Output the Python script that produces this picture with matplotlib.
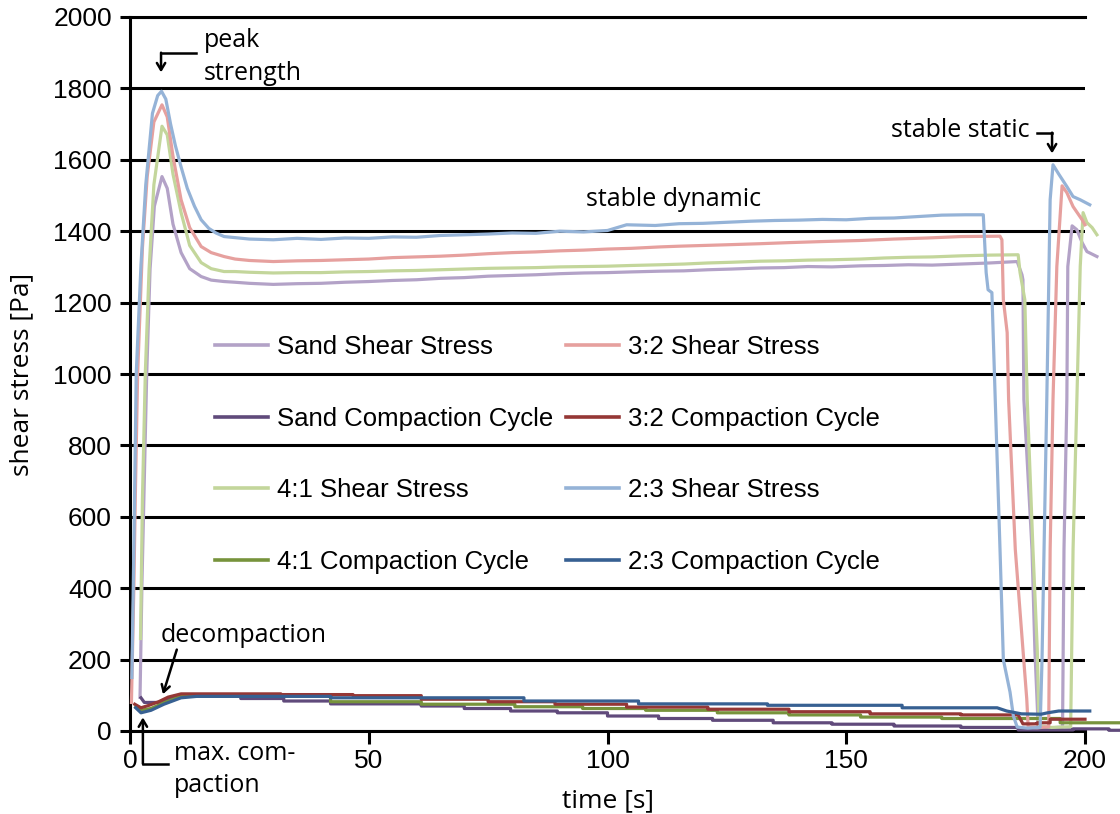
import matplotlib
matplotlib.use("Agg")
import matplotlib.pyplot as plt

# shear stress curves (time [s], stress [Pa])
sand_shear_t = [2.1, 2.5, 3.1, 3.5, 4.2, 5.1, 6.7, 7.8, 9.0, 10.7, 12.5, 14.9, 17, 19.7, 22, 25, 30, 35, 40, 45,
                50, 55, 60, 65, 70, 75, 80, 85, 90, 95, 100, 105, 111, 116, 121, 126, 132, 137, 142, 147, 153,
                158, 163, 168, 174, 180, 185.8, 186.8, 187.0, 187.2, 188.9, 189.5, 190.2, 193, 195.3, 195.6,
                196.2, 196.4, 197.3, 198.3, 199.4, 200.4, 202.5]
sand_shear = [94, 412, 765, 1000, 1294, 1470, 1553, 1520, 1420, 1340, 1295, 1273, 1263, 1259, 1257, 1254, 1251,
              1253, 1254, 1257, 1259, 1262, 1264, 1268, 1270, 1274, 1276, 1278, 1281, 1283, 1284, 1286, 1288,
              1289, 1292, 1294, 1297, 1298, 1301, 1300, 1303, 1304, 1306, 1305, 1308, 1311, 1315, 1278, 1264,
              929, 509, 229, 11, 9, 11, 509, 929, 1301, 1415, 1404, 1368, 1343, 1329]

r41_shear_t = [2.2, 2.6, 3.2, 4.0, 5.0, 6.7, 7.8, 9.0, 10.7, 12.5, 14.9, 17, 19.7, 22, 25, 30, 35, 40, 45, 50, 55,
               60, 65, 70, 75, 80, 85, 90, 95, 100, 105, 111, 116, 121, 126, 132, 137, 142, 147, 153, 158, 163,
               168, 174, 180, 186, 186.4, 187.4, 187.9, 189.1, 190.0, 190.4, 193, 197, 197.5, 198.3, 199.0,
               199.6, 200.4, 201.5, 202.5]
r41_shear = [259, 648, 1000, 1294, 1530, 1694, 1670, 1560, 1452, 1360, 1312, 1295, 1287, 1287, 1285, 1283, 1284,
             1284, 1286, 1287, 1289, 1290, 1292, 1294, 1296, 1297, 1298, 1300, 1301, 1302, 1304, 1306, 1308, 1311,
             1313, 1316, 1317, 1319, 1320, 1322, 1325, 1327, 1328, 1331, 1333, 1334, 1284, 1208, 929, 509, 229,
             14, 10, 12, 509, 929, 1301, 1452, 1424, 1410, 1390]

r32_shear_t = [0.3, 0.8, 1.1, 1.6, 2.6, 3.6, 5.0, 6.7, 7.8, 9.0, 10.7, 12.5, 14.9, 17, 19.7, 22, 25, 30, 35, 40, 45,
               50, 55, 60, 65, 70, 75, 80, 85, 90, 95, 100, 105, 111, 115, 120, 125, 132, 138, 145, 153, 160, 167,
               174, 182.2, 182.6, 182.9, 183.7, 184.0, 185.4, 187.0, 187.8, 188.1, 190, 192.4, 192.7, 193.3,
               194.1, 195.2, 196.2, 197.5, 199.4, 200.0]
r32_shear = [80, 400, 648, 1000, 1353, 1553, 1706, 1754, 1720, 1610, 1488, 1410, 1357, 1340, 1329, 1322, 1318,
             1315, 1317, 1318, 1320, 1322, 1326, 1328, 1330, 1333, 1337, 1340, 1342, 1345, 1347, 1350, 1352, 1356,
             1358, 1360, 1362, 1365, 1368, 1371, 1374, 1378, 1381, 1385, 1386, 1376, 1208, 1116, 929, 509, 229,
             90, 11, 9, 12, 509, 929, 1301, 1527, 1508, 1469, 1432, 1418]

r23_shear_t = [0.4, 0.9, 1.3, 2.3, 3.3, 4.7, 5.8, 6.6, 7.5, 8.5, 9.5, 10.7, 12, 13.5, 14.9, 16.5, 18, 19.7, 22, 25,
               30, 35, 40, 45, 50, 55, 60, 65, 70, 75, 80, 85, 90, 95, 100, 104, 110, 115, 120, 125, 130, 135, 140,
               145, 150, 155, 160, 165, 170, 175, 178.7, 179.3, 179.7, 180.5, 181.2, 182.2, 182.9, 184.3, 185.0,
               185.8, 188, 190.6, 191.0, 192.0, 192.7, 193.3, 194.5, 196.2, 197.5, 199.0, 201.0]
r23_shear = [150, 600, 1000, 1306, 1530, 1730, 1780, 1792, 1770, 1700, 1640, 1580, 1520, 1470, 1432, 1408, 1395,
             1385, 1382, 1378, 1376, 1380, 1377, 1381, 1380, 1384, 1383, 1388, 1390, 1392, 1395, 1394, 1400, 1398,
             1402, 1418, 1416, 1421, 1422, 1425, 1428, 1430, 1431, 1433, 1432, 1436, 1437, 1441, 1445, 1446, 1446,
             1284, 1236, 1228, 929, 509, 200, 109, 42, 11, 8, 10, 200, 929, 1488, 1586, 1560, 1525, 1497, 1488,
             1474]

# compaction cycles (stepped)
sand_comp_t = [2.3, 3.0, 6.4, 8.5, 10.7, 23.2, 23.2, 32.2, 32.2, 42, 42, 61, 61, 70, 70, 79.7, 79.7, 89.5, 89.5,
               100, 100, 110.7, 110.7, 122, 122, 134.7, 134.7, 147, 147, 160, 160, 174, 174, 186, 186, 197.5,
               197.5, 205, 205, 207]
sand_comp = [93, 80, 80, 90, 98, 98, 91, 91, 84, 84, 76, 76, 70, 70, 63, 63, 56, 56, 51, 51, 42, 42, 35, 35, 30,
             30, 23, 23, 19, 19, 14, 14, 10, 10, 3, 3, 6, 6, 2, 2]

r41_comp_t = [1.2, 2.3, 4.4, 7.1, 10.7, 14, 42, 42, 61, 61, 80.6, 80.6, 94.8, 94.8, 108, 108, 123, 123, 138, 138,
              153, 153, 170, 170, 194.8, 194.8, 207]
r41_comp = [67, 58, 63, 79, 97, 99, 99, 82, 82, 75, 75, 68, 68, 63, 63, 58, 58, 51, 51, 45, 45, 39, 39, 35, 35,
            23, 23]

r32_comp_t = [1.0, 2.3, 4.0, 6.0, 8.0, 10.7, 31.6, 31.6, 46.7, 46.7, 61, 61, 75, 75, 89, 89, 104, 104, 121, 121,
              138, 138, 155, 155, 174, 174, 186, 187, 190, 190, 192.7, 192.7, 200]
r32_comp = [75, 65, 72, 82, 95, 104, 104, 102, 102, 99, 99, 89, 89, 82, 82, 75, 75, 67, 67, 61, 61, 54, 54, 48,
            48, 45, 45, 20, 20, 23, 23, 33, 33]

r23_comp_t = [1.2, 2.3, 4.4, 7.1, 10.7, 14, 42, 42, 82.5, 82.5, 106.5, 106.5, 133.5, 133.5, 161.7, 161.7, 181.6,
              183.6, 186.7, 190.8, 192.2, 194.5, 201]
r23_comp = [65, 51, 58, 75, 93, 97, 97, 93, 93, 84, 84, 76, 76, 72, 72, 65, 65, 56, 48, 47, 51, 56, 56]

series = [
    ("Sand Shear Stress", sand_shear_t, sand_shear, "#b3a2c7"),
    ("Sand Compaction Cycle", sand_comp_t, sand_comp, "#604a7b"),
    ("4:1 Shear Stress", r41_shear_t, r41_shear, "#c3d69b"),
    ("4:1 Compaction Cycle", r41_comp_t, r41_comp, "#77933c"),
    ("3:2 Shear Stress", r32_shear_t, r32_shear, "#e6a09e"),
    ("3:2 Compaction Cycle", r32_comp_t, r32_comp, "#953735"),
    ("2:3 Shear Stress", r23_shear_t, r23_shear, "#95b3d7"),
    ("2:3 Compaction Cycle", r23_comp_t, r23_comp, "#376092"),
]

W, H = 1120, 814
fig = plt.figure(figsize=(W / 100, H / 100), dpi=100)
ax = fig.add_axes([130 / W, 1 - 731 / H, (1085 - 130) / W, (731 - 17) / H])

for label, t, v, c in series:
    ax.plot(t, v, color=c, lw=2.3, label=label, clip_on=False, zorder=3)

ax.set_xlim(0, 200)
ax.set_ylim(0, 2000)
ax.set_xticks([0, 50, 100, 150, 200])
ax.set_yticks(range(0, 2001, 200))
ax.yaxis.grid(True, color="black", lw=2.2)
ax.set_axisbelow(True)
ax.spines["right"].set_visible(False)
for s in ["left", "bottom", "top"]:
    ax.spines[s].set_linewidth(2.2)
ax.tick_params(axis="y", length=7, width=2.2, labelsize=19, pad=6)
ax.tick_params(axis="x", length=9, width=2.2, labelsize=19, pad=4)
for lab in ax.get_xticklabels() + ax.get_yticklabels():
    lab.set_family("Liberation Sans")

ax.set_xlabel("time [s]", fontsize=19, family="Open Sans", labelpad=11)
ax.set_ylabel("shear stress [Pa]", fontsize=19, family="Open Sans", labelpad=14)

leg = ax.legend(ncol=2, frameon=False, loc="upper left",
                bbox_to_anchor=(215 / W, 1 - 335 / H), bbox_transform=fig.transFigure,
                borderpad=0, borderaxespad=0, handlelength=2.06, handletextpad=0.35,
                labelspacing=1.85, columnspacing=0.5,
                prop={"family": "Liberation Sans", "size": 18.5})
for line in leg.get_lines():
    line.set_linewidth(2.6)

txt = dict(fontsize=18, family="Open Sans", color="black")
arr = dict(arrowstyle="->,head_length=0.5,head_width=0.3", lw=1.8, color="black", shrinkA=0, shrinkB=0)

# peak strength
ax.text(15.5, 1933, "peak", ha="left", va="center", **txt)
ax.text(15.5, 1843, "strength", ha="left", va="center", **txt)
ax.plot([13.8, 6.5], [1900, 1900], color="black", lw=1.8, clip_on=False)
ax.annotate("", xy=(6.5, 1845), xytext=(6.5, 1900), arrowprops=arr, annotation_clip=False)

# stable dynamic
ax.text(95.4, 1488, "stable dynamic", ha="left", va="center", **txt)

# stable static
ax.text(188.5, 1681, "stable static", ha="right", va="center", **txt)
ax.plot([190, 193.1], [1676, 1676], color="black", lw=1.8, clip_on=False)
ax.annotate("", xy=(193.1, 1618), xytext=(193.1, 1676), arrowprops=arr, annotation_clip=False)

# decompaction
ax.text(6.5, 268, "decompaction", ha="left", va="center", **txt)
ax.annotate("", xy=(6.9, 103), xytext=(9.8, 228), arrowprops=arr, annotation_clip=False)

# max. compaction
ax.text(9.2, -62, "max. com-", ha="left", va="center", **txt)
ax.text(9.2, -152, "paction", ha="left", va="center", **txt)
ax.plot([8.0, 2.7], [-92, -92], color="black", lw=1.8, clip_on=False)
ax.annotate("", xy=(2.7, 38), xytext=(2.7, -92), arrowprops=arr, annotation_clip=False)

fig.savefig("out.png", dpi=100)
